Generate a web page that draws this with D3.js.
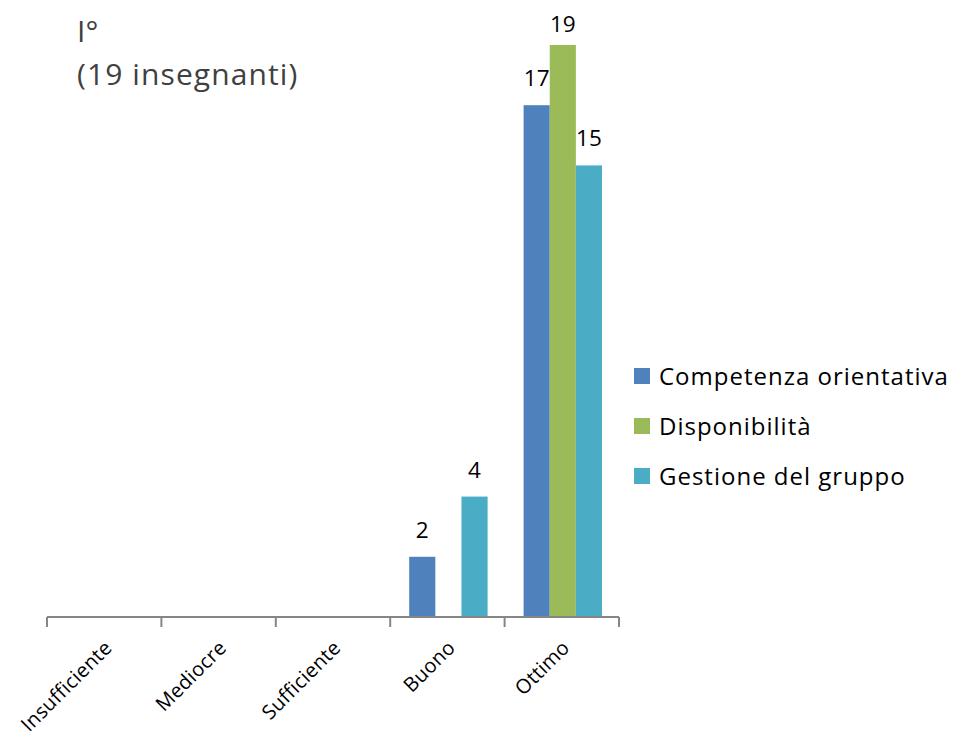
<!DOCTYPE html>
<html>
<head>
<meta charset="utf-8">
<script src="https://cdn.jsdelivr.net/npm/d3@7"></script>
<style>
  body { margin: 0; background: #fff; }
  text { font-family: "Open Sans", sans-serif; font-variant-ligatures: none; }
</style>
</head>
<body>
<div id="chart"></div>
<script>
// Dati
const categories = ["Insufficiente", "Mediocre", "Sufficiente", "Buono", "Ottimo"];
const seriesNames = ["Competenza orientativa", "Disponibilità", "Gestione del gruppo"];
const seriesColors = ["#4f81bd", "#9bbb59", "#4bacc6"];
const competenza = [null, null, null, 2, 17];
const disponibilita = [null, null, null, null, 19];
const gestione = [null, null, null, 4, 15];
const seriesValues = [competenza, disponibilita, gestione];

const W = 953, H = 744;
const svg = d3.select("#chart").append("svg")
  .attr("width", W)
  .attr("height", H);

const x = d3.scaleBand().domain(categories).range([47, 619]).paddingInner(0).paddingOuter(0);
const x1 = d3.scaleBand().domain(d3.range(seriesNames.length)).range([19, x.bandwidth() - 17]);
const y = d3.scaleLinear().domain([0, 19]).range([617, 45]);

// Barre
categories.forEach((cat, ci) => {
  seriesValues.forEach((vals, si) => {
    const v = vals[ci];
    if (v == null) return;
    const bx = x(cat) + x1(si);
    svg.append("rect")
      .attr("x", bx)
      .attr("y", y(v))
      .attr("width", x1.bandwidth())
      .attr("height", y(0) - y(v))
      .attr("fill", seriesColors[si]);
    // etichetta sopra la barra, tenuta dentro l'area del grafico
    svg.append("text")
      .attr("x", bx + x1.bandwidth() / 2)
      .attr("y", Math.max(y(v) - 19, 32))
      .attr("text-anchor", "middle")
      .attr("font-size", 22.5)
      .attr("fill", "#000")
      .text(v);
  });
});

// Asse X
const axisColor = "#868686";
svg.append("line")
  .attr("x1", 47).attr("x2", 619)
  .attr("y1", y(0)).attr("y2", y(0))
  .attr("stroke", axisColor).attr("stroke-width", 2);
const tickPos = categories.map(c => x(c)).concat([x(categories[categories.length - 1]) + x.bandwidth()]);
svg.selectAll("line.tick")
  .data(tickPos)
  .enter()
  .append("line")
  .attr("class", "tick")
  .attr("x1", d => d).attr("x2", d => d)
  .attr("y1", y(0)).attr("y2", y(0) + 10)
  .attr("stroke", axisColor).attr("stroke-width", 2);

svg.selectAll("text.cat")
  .data(categories)
  .enter()
  .append("text")
  .attr("class", "cat")
  .attr("text-anchor", "end")
  .attr("font-size", 20)
  .attr("letter-spacing", 0.3)
  .attr("fill", "#000")
  .attr("transform", d => `translate(${x(d) + x.bandwidth() / 2 + 9},${649}) rotate(-45)`)
  .text(d => d);

// Titolo
svg.append("text")
  .attr("x", 77).attr("y", 42)
  .attr("font-size", 30)
  .attr("fill", "#404040")
  .text("I°");
svg.append("text")
  .attr("x", 77).attr("y", 85)
  .attr("font-size", 30)
  .attr("letter-spacing", 1.1)
  .attr("fill", "#404040")
  .text("(19 insegnanti)");

// Legenda
const legend = svg.selectAll("g.legend")
  .data(seriesNames)
  .enter()
  .append("g")
  .attr("class", "legend")
  .attr("transform", (d, i) => `translate(634,${368 + i * 50})`);
legend.append("rect")
  .attr("x", 0).attr("y", 0)
  .attr("width", 16).attr("height", 16)
  .attr("fill", (d, i) => seriesColors[i]);
legend.append("text")
  .attr("x", 25).attr("y", 17)
  .attr("font-size", 24)
  .attr("letter-spacing", 1)
  .attr("fill", "#000")
  .text(d => d);
</script>
</body>
</html>
